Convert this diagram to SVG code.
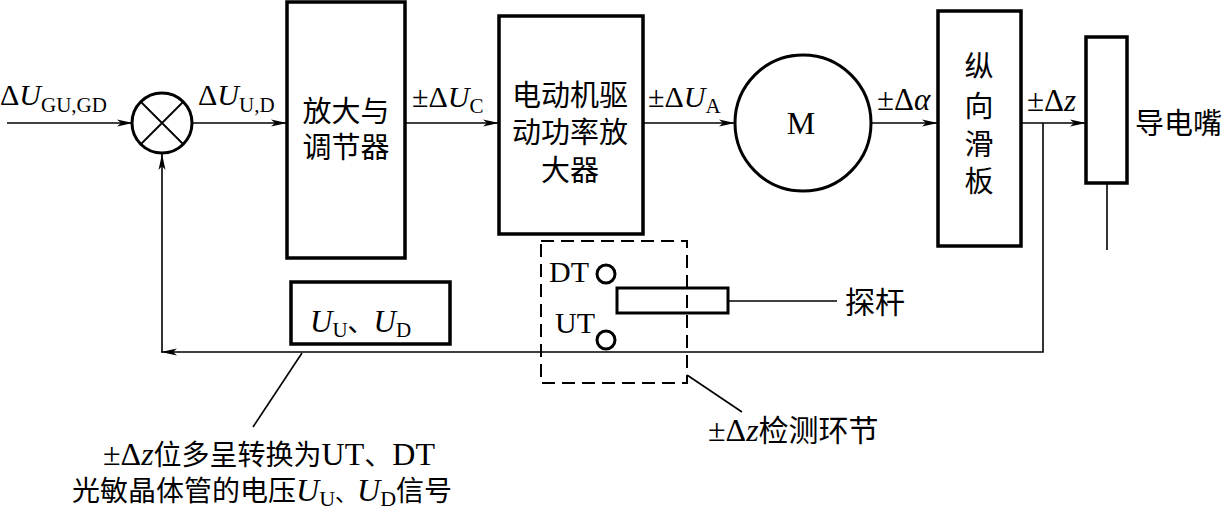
<svg xmlns="http://www.w3.org/2000/svg" width="1228" height="517" viewBox="0 0 1228 517">
<style>
.blk{fill:#fff;stroke:#000;stroke-width:3.5}
.ln{fill:none;stroke:#000;stroke-width:1.6}
.cn{font-family:"Noto Sans CJK SC","Noto Sans CJK JP",sans-serif;fill:#000}
.lt{font-family:"Liberation Serif","DejaVu Serif",serif;fill:#000}
.it{font-style:italic}
</style>
<defs>
<marker id="ah" markerUnits="userSpaceOnUse" markerWidth="18" markerHeight="10" refX="16" refY="4" orient="auto">
<path d="M0,0.5 L16,4 L0,7.5 L4,4 z" fill="#000"/>
</marker>
</defs>
<rect width="1228" height="517" fill="#fff"/>

<g id="connectors">
<path class="ln" d="M7,123 H133" marker-end="url(#ah)"/>
<path class="ln" d="M193,123 H287" marker-end="url(#ah)"/>
<path class="ln" d="M405,123 H499" marker-end="url(#ah)"/>
<path class="ln" d="M643,123 H735" marker-end="url(#ah)"/>
<path class="ln" d="M871,123 H938" marker-end="url(#ah)"/>
<path class="ln" d="M1021,123 H1086" marker-end="url(#ah)"/>
<path class="ln" d="M1043,123 V352 H161" marker-end="url(#ah)"/>
<path class="ln" d="M162,352 V154" marker-end="url(#ah)"/>
<path class="ln" d="M728,301 H837"/>
<path class="ln" d="M302,353 L253,427"/>
<path class="ln" d="M687,375 L742,412"/>
</g>

<g id="labels">
<text class="lt" x="0" y="105" font-size="30">Δ<tspan class="it">U</tspan><tspan font-size="21" dy="7">GU,GD</tspan></text>
<text class="lt" x="198" y="105" font-size="30">Δ<tspan class="it">U</tspan><tspan font-size="21" dy="7">U,D</tspan></text>
<text class="lt" x="412" y="107" font-size="30">±Δ<tspan class="it">U</tspan><tspan font-size="21" dy="6">C</tspan></text>
<text class="lt" x="648" y="107" font-size="30">±Δ<tspan class="it">U</tspan><tspan font-size="21" dy="6">A</tspan></text>
<text class="lt" x="877" y="110" font-size="31">±Δ<tspan class="it">α</tspan></text>
<text class="lt" x="1027" y="111" font-size="31">±Δ<tspan class="it">z</tspan></text>
</g>

<g id="sum">
<circle cx="162" cy="123" r="30" fill="#fff" stroke="#000" stroke-width="3"/>
<path d="M141,102 L183,144 M183,102 L141,144" stroke="#000" stroke-width="1.8"/>
</g>

<g id="amp">
<rect class="blk" x="287" y="2" width="118" height="256"/>
<text class="cn" font-size="29" text-anchor="middle"><tspan x="346" y="122">放大与</tspan><tspan x="346" y="158">调节器</tspan></text>
</g>

<g id="driver">
<rect class="blk" x="499" y="16" width="144" height="218"/>
<text class="cn" font-size="29" text-anchor="middle"><tspan x="570" y="106">电动机驱</tspan><tspan x="570" y="143">动功率放</tspan><tspan x="570" y="181">大器</tspan></text>
</g>

<g id="motor">
<circle cx="803" cy="123" r="68" fill="#fff" stroke="#000" stroke-width="3"/>
<text class="lt" x="801" y="134" font-size="32" text-anchor="middle">M</text>
</g>

<g id="slide">
<rect class="blk" x="938" y="11" width="83" height="235"/>
<text class="cn" font-size="29" text-anchor="middle"><tspan x="979" y="77">纵</tspan><tspan x="979" y="117">向</tspan><tspan x="979" y="155">滑</tspan><tspan x="979" y="192">板</tspan></text>
</g>

<g id="nozzle">
<rect class="blk" x="1086" y="37" width="41" height="146"/>
<path class="ln" d="M1107,183 V250"/>
<text class="cn" x="1135" y="134" font-size="29">导电嘴</text>
</g>

<g id="detector">
<rect x="541" y="241" width="146" height="142" fill="none" stroke="#000" stroke-width="2" stroke-dasharray="13,7"/>
<text class="lt" x="549" y="282" font-size="30">DT</text>
<circle cx="606" cy="274" r="9" fill="none" stroke="#000" stroke-width="3"/>
<text class="lt" x="555" y="333" font-size="30">UT</text>
<circle cx="606" cy="340" r="9" fill="none" stroke="#000" stroke-width="3"/>
<rect x="617" y="288" width="111" height="25" fill="none" stroke="#000" stroke-width="3"/>
<text class="cn" x="845" y="313" font-size="30">探杆</text>
<text x="708" y="441" font-size="30"><tspan class="lt" font-size="32">±Δ</tspan><tspan class="lt it" font-size="32">z</tspan><tspan class="cn">检测环节</tspan></text>
</g>

<g id="uud">
<rect class="blk" x="291" y="282" width="159" height="62"/>
<text x="310" y="332" font-size="31"><tspan class="lt it">U</tspan><tspan class="lt" font-size="21" dy="5">U</tspan><tspan class="cn" font-size="26" dy="-5">、</tspan><tspan class="lt it">U</tspan><tspan class="lt" font-size="21" dy="5">D</tspan></text>
</g>

<g id="note">
<text x="103" y="465" font-size="28"><tspan class="lt" font-size="32">±Δ</tspan><tspan class="lt it" font-size="32">z</tspan><tspan class="cn">位多呈转换为</tspan><tspan class="lt" font-size="32">UT</tspan><tspan class="cn">、</tspan><tspan class="lt" font-size="32">DT</tspan></text>
<text x="72" y="501" font-size="28"><tspan class="cn">光敏晶体管的电压</tspan><tspan class="lt it" font-size="32">U</tspan><tspan class="lt" font-size="22" dy="5">U</tspan><tspan class="cn" font-size="22" dy="-5">、</tspan><tspan class="lt it" font-size="32">U</tspan><tspan class="lt" font-size="22" dy="5">D</tspan><tspan class="cn" dy="-5">信号</tspan></text>
</g>
</svg>
